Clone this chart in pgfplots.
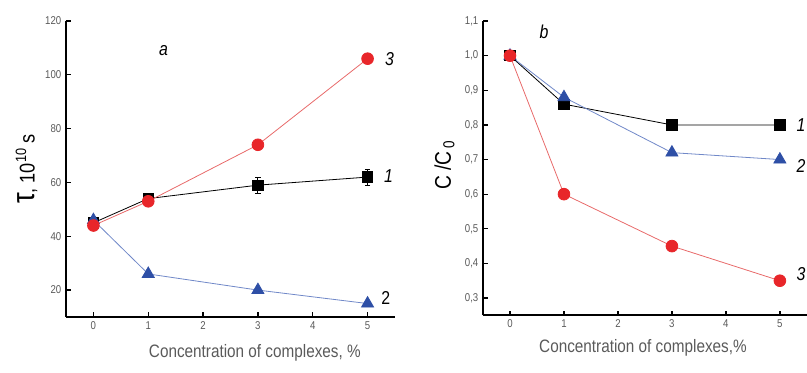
\documentclass[border=0pt]{standalone}
\usepackage{fontspec}
\setmainfont{Liberation Sans}[FakeStretch=0.85]
\usepackage{pgfplots}
\pgfplotsset{compat=1.18}
\definecolor{cred}{HTML}{E8262A}
\definecolor{credl}{HTML}{E86A6A}
\definecolor{cblue}{HTML}{2E4FA6}
\definecolor{cbluel}{HTML}{7088C8}
\definecolor{tgray}{HTML}{5A5A5A}
\pgfplotsset{
  myax/.style={
    scale only axis,
    axis x line=bottom, axis y line=left,
    axis line style={-, line width=1.5pt},
    tick align=inside,
    major tick length=3.5pt,
    every tick/.style={black, line width=1pt},
    tick label style={font=\fontsize{8.5}{10}\selectfont, text=tgray},
    /pgf/number format/assume math mode=true,
    xmin=-0.5,
    xtick={0,1,2,3,4,5},
    clip=false,
  },
}
\tikzset{lbl/.style={font=\fontsize{14}{16}\selectfont\itshape}}
\begin{document}
\begin{tikzpicture}
\path[use as bounding box] (0,0) rectangle (605.25pt,279pt);
% left panel
\begin{axis}[myax, at={(49.5pt,41.25pt)}, anchor=south west,
  width=246.75pt, height=222pt, xmax=5.5, ymin=10, ymax=120,
  ytick={20,40,60,80,100,120}]
\addplot[black, line width=0.6pt, mark=square*, mark size=3.9pt,
  error bars/.cd, y dir=both, y explicit,
  error bar style={line width=0.8pt}, error mark options={rotate=90, mark size=2pt}]
  coordinates {(0,45) +- (0,1.5) (1,54) +- (0,2) (3,59) +- (0,3) (5,62) +- (0,3)};
\addplot[cbluel, line width=0.6pt, mark=triangle*, mark size=5.2pt,
  mark options={fill=cblue, draw=cblue}]
  coordinates {(0,46) (1,26) (3,20) (5,15)};
\addplot[credl, line width=0.6pt, mark=*, mark size=4.4pt,
  mark options={fill=cred, draw=cred}]
  coordinates {(0,44) (1,53) (3,74) (5,106)};
\node[lbl] at (axis cs:1.28,109) {a};
\node[lbl] at (axis cs:5.4,106) {3};
\node[lbl] at (axis cs:5.38,62.5) {1};
\node[font=\fontsize{14}{16}\selectfont] at (axis cs:5.33,17) {2};
\node[rotate=90, font=\fontsize{16}{20}\selectfont] at (axis description cs:-0.12,0.5)
  {{\fontsize{24}{26}\selectfont τ}, 10\textsuperscript{10} s};
\node[font=\fontsize{13.5}{16}\selectfont, text=tgray] at (axis description cs:0.574,-0.12)
  {Concentration of complexes, \%};
\end{axis}
% right panel
\begin{axis}[myax, at={(362.25pt,42.5pt)}, anchor=south west,
  width=251pt, height=220.7pt, xmax=5.7, ymin=0.25, ymax=1.1,
  ytick={0.3,0.4,0.5,0.6,0.7,0.8,0.9,1.0,1.1},
  yticklabel style={/pgf/number format/.cd, use comma, fixed, fixed zerofill, precision=1}]
\addplot[black, line width=0.6pt, mark=square*, mark size=3.9pt]
  coordinates {(0,1.0) (1,0.86) (3,0.80) (5,0.80)};
\addplot[cbluel, line width=0.6pt, mark=triangle*, mark size=5.2pt,
  mark options={fill=cblue, draw=cblue}]
  coordinates {(0,1.0) (1,0.88) (3,0.72) (5,0.70)};
\addplot[credl, line width=0.6pt, mark=*, mark size=4.4pt,
  mark options={fill=cred, draw=cred}]
  coordinates {(0,1.0) (1,0.60) (3,0.45) (5,0.35)};
\node[lbl] at (axis cs:0.63,1.07) {b};
\node[lbl] at (axis cs:5.39,0.80) {1};
\node[lbl] at (axis cs:5.39,0.68) {2};
\node[lbl] at (axis cs:5.39,0.37) {3};
\node[rotate=90, font=\fontsize{17}{20}\selectfont] at (axis description cs:-0.115,0.51)
  {C /C\textsubscript{\,0}};
\node[font=\fontsize{13.5}{16}\selectfont, text=tgray] at (axis description cs:0.478,-0.11)
  {Concentration of complexes,\%};
\end{axis}
\end{tikzpicture}
\end{document}
